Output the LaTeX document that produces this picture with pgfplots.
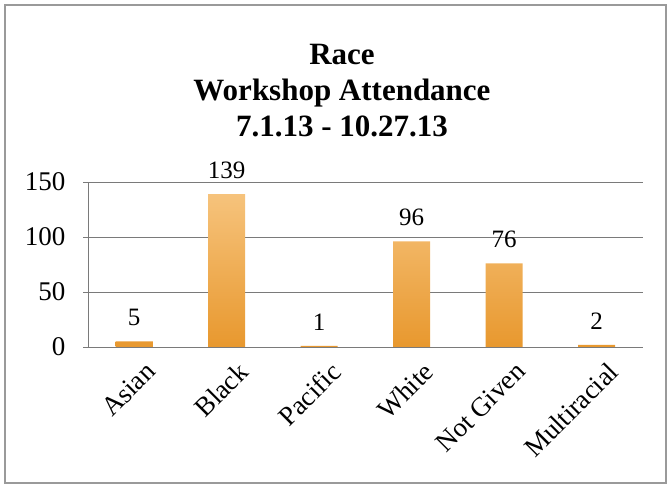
\documentclass[border=0pt]{standalone}
\usepackage{fontspec}
\setmainfont{Liberation Serif}
\usepackage{pgfplots}
\pgfplotsset{compat=1.18}
\definecolor{barTop}{HTML}{F6C37C}
\definecolor{barBot}{HTML}{E8982E}
\definecolor{gridc}{HTML}{7A7A7A}
\definecolor{framec}{HTML}{9A9A9A}
\begin{document}
\begin{tikzpicture}[x=1pt,y=1pt]
\useasboundingbox (0,0) rectangle (670,487);
\draw[framec, line width=2.5pt] (5,4) rectangle (666,482);
\node[font=\fontsize{31}{36}\selectfont\bfseries, align=center] at (342,396)
  {Race\\Workshop Attendance\\7.1.13 - 10.27.13};
\begin{axis}[
  at={(88pt,140pt)}, anchor=south west,
  scale only axis, width=555pt, height=165pt,
  ybar, bar width=37pt,
  ymin=0, ymax=150, ytick={0,50,100,150},
  xmin=-0.5, xmax=5.5,
  xtick={0,1,2,3,4,5},
  xticklabels={Asian,Black,Pacific,White,Not Given,Multiracial},
  minor xtick={-0.5,0.5,1.5,2.5,3.5,4.5,5.5},
  xtick style={draw=none},
  minor tick length=8pt,
  major tick length=5pt,
  tick align=outside,
  axis lines*=left,
  axis line style={gridc, line width=0.9pt},
  every tick/.style={gridc, line width=0.9pt},
  ymajorgrids, grid style={gridc, line width=0.9pt},
  /pgf/number format/assume math mode=true,
  tick label style={font=\fontsize{27}{30}\selectfont},
  yticklabel style={xshift=-14pt},
  xticklabel style={rotate=45, anchor=north east, xshift=2pt, yshift=-12pt, inner sep=1pt},
  nodes near coords,
  nodes near coords style={font=\fontsize{25}{28}\selectfont, anchor=south, yshift=12pt, text=black},
]
\addplot[draw=none, top color=barTop, bottom color=barBot] coordinates {(0,5) (1,139) (2,1) (3,96) (4,76) (5,2)};
\end{axis}
\end{tikzpicture}
\end{document}
